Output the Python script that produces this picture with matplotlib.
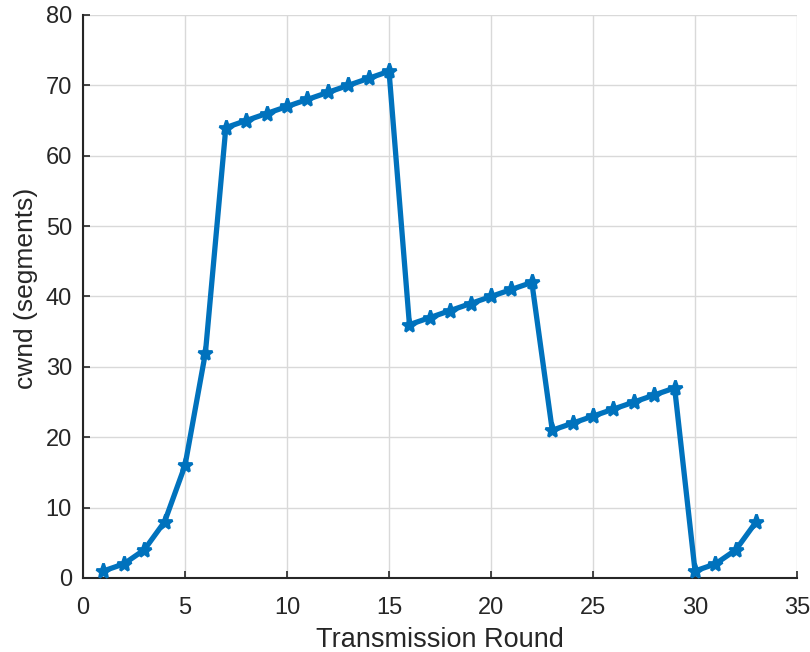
import matplotlib
matplotlib.use("Agg")
import matplotlib.pyplot as plt

rounds = list(range(1, 34))
cwnd = [1, 2, 4, 8, 16, 32, 64, 65, 66, 67, 68, 69, 70, 71, 72,
        36, 37, 38, 39, 40, 41, 42,
        21, 22, 23, 24, 25, 26, 27,
        1, 2, 4, 8]
xticks = [0, 5, 10, 15, 20, 25, 30, 35]
yticks = [0, 10, 20, 30, 40, 50, 60, 70, 80]

plt.rcParams['font.family'] = ['Liberation Sans', 'DejaVu Sans']

fig = plt.figure(figsize=(8.1, 6.52), dpi=100)
ax = fig.add_axes([0.1025, 0.1135, 0.8815, 0.8635])
ax.plot(rounds, cwnd, color='#0072BD', linewidth=3.8, marker='*',
        markersize=11, markeredgewidth=2, zorder=3, clip_on=False)
ax.set_xlim(0, 35)
ax.set_ylim(0, 80)
ax.set_xticks(xticks)
ax.set_yticks(yticks)
ax.grid(True, color='#d9d9d9', linewidth=1)
ax.set_axisbelow(True)
for s in ['top', 'right']:
    ax.spines[s].set_visible(False)
for s in ['left', 'bottom']:
    ax.spines[s].set_color('#262626')
    ax.spines[s].set_linewidth(1.5)
ax.tick_params(direction='in', length=5, width=1.2, colors='#262626',
               labelsize=17, top=False, right=False)
ax.tick_params(axis='x', pad=13.5)
ax.tick_params(axis='y', pad=8)
ax.set_xlabel('Transmission Round', fontsize=19.5, color='#262626', labelpad=6)
ax.set_ylabel('cwnd (segments)', fontsize=19, color='#262626')
ax.yaxis.set_label_coords(-0.063, 0.514)
fig.savefig('out.png', dpi=100)
